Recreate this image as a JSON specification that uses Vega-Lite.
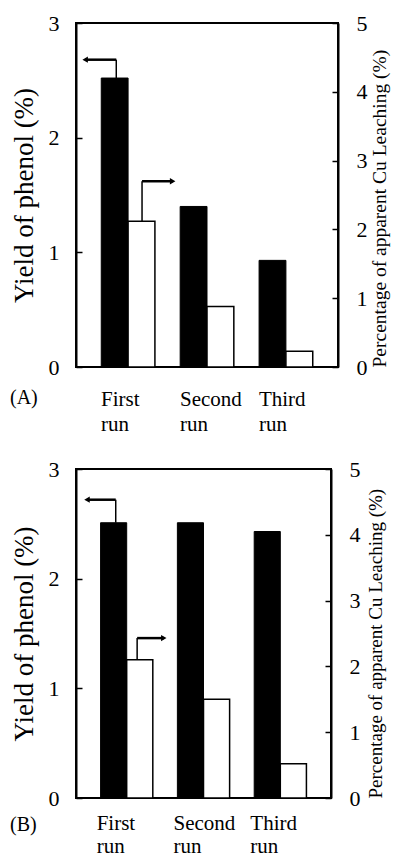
{
  "$schema": "https://vega.github.io/schema/vega-lite/v6.json",
  "background": "white",
  "padding": {"left": 9, "top": 11, "right": 2, "bottom": 0},
  "spacing": 22,
  "config": {
    "font": "Liberation Serif",
    "view": {"stroke": "black", "strokeWidth": 2},
    "axis": {
      "grid": false,
      "domainColor": "black",
      "domainWidth": 2,
      "tickColor": "black",
      "tickWidth": 1.5,
      "labelColor": "black",
      "titleColor": "black",
      "labelFont": "Liberation Serif",
      "titleFont": "Liberation Serif",
      "titleFontWeight": "normal"
    },
    "title": {"font": "Liberation Serif", "fontWeight": "normal", "color": "black"}
  },
  "datasets": {
    "runsA": [
      {"run": "First run", "yield": 2.52, "leach": 2.12},
      {"run": "Second run", "yield": 1.40, "leach": 0.88},
      {"run": "Third run", "yield": 0.93, "leach": 0.23}
    ],
    "yieldArrowA": [{"run": "First run", "start": 0.28, "end": -0.30, "base": 2.52, "level": 2.68}],
    "leachArrowA": [{"run": "First run", "start": 0.76, "end": 1.33, "base": 2.12, "level": 2.70}],
    "runsB": [
      {"run": "First run", "yield": 2.51, "leach": 2.10},
      {"run": "Second run", "yield": 2.51, "leach": 1.50},
      {"run": "Third run", "yield": 2.43, "leach": 0.52}
    ],
    "yieldArrowB": [{"run": "First run", "start": 0.29, "end": -0.26, "base": 2.51, "level": 2.72}],
    "leachArrowB": [{"run": "First run", "start": 0.70, "end": 1.21, "base": 2.10, "level": 2.43}]
  },
  "vconcat": [
    {
      "width": 262,
      "height": 344,
      "title": {"text": "(A)", "orient": "bottom", "anchor": "start", "frame": "bounds", "font": "Liberation Serif", "fontSize": 20, "dy": -50},
      "layer": [
        {
          "layer": [
            {
              "data": {"name": "runsA"},
              "mark": {"type": "bar", "color": "black", "stroke": "black", "strokeWidth": 1},
              "encoding": {
                "x": {
                  "field": "run", "type": "nominal", "sort": null,
                  "scale": {"domain": ["First run", "Second run", "Third run"], "paddingInner": 0.32, "paddingOuter": 0.32},
                  "axis": {"title": null, "labelAngle": 0, "ticks": false, "domain": false, "labelFont": "Liberation Serif", "labelFontSize": 21, "labelPadding": 21, "labelAlign": "left", "labelOffset": -27, "labelLineHeight": 25, "labelBaseline": "top", "labelExpr": "split(datum.label, ' ')"}
                },
                "xOffset": {"datum": "Yield", "scale": {"domain": ["Yield", "Leaching"]}},
                "y": {
                  "field": "yield", "type": "quantitative",
                  "scale": {"domain": [0, 3], "nice": false},
                  "axis": {"orient": "left", "title": "Yield of phenol (%)", "titleFont": "Liberation Serif", "titleFontSize": 27, "titlePadding": 10, "values": [0, 1, 2, 3], "format": "d", "tickSize": -6, "labelPadding": 23, "labelFont": "Liberation Serif", "labelFontSize": 22}
                }
              }
            },
            {
              "data": {"name": "yieldArrowA"},
              "layer": [
                {
                  "mark": {"type": "rule", "color": "black", "strokeWidth": 1.5},
                  "encoding": {
                    "x": {"field": "run", "type": "nominal"},
                    "xOffset": {"field": "start", "type": "quantitative", "scale": {"domain": [0, 1]}},
                    "y": {"field": "base", "type": "quantitative"},
                    "y2": {"field": "level"}
                  }
                },
                {
                  "transform": [{"fold": ["start", "end"], "as": ["point", "at"]}],
                  "mark": {"type": "line", "color": "black", "strokeWidth": 2.5},
                  "encoding": {
                    "x": {"field": "run", "type": "nominal"},
                    "xOffset": {"field": "at", "type": "quantitative", "scale": {"domain": [0, 1]}},
                    "y": {"field": "level", "type": "quantitative"}
                  }
                },
                {
                  "mark": {"type": "point", "shape": "triangle-left", "filled": true, "color": "black", "opacity": 1, "size": 40},
                  "encoding": {
                    "x": {"field": "run", "type": "nominal"},
                    "xOffset": {"field": "end", "type": "quantitative", "scale": {"domain": [0, 1]}},
                    "y": {"field": "level", "type": "quantitative"}
                  }
                }
              ]
            }
          ],
          "resolve": {"scale": {"xOffset": "independent"}}
        },
        {
          "layer": [
            {
              "data": {"name": "runsA"},
              "mark": {"type": "bar", "color": "white", "stroke": "black", "strokeWidth": 1.5},
              "encoding": {
                "x": {"field": "run", "type": "nominal", "sort": null},
                "xOffset": {"datum": "Leaching", "scale": {"domain": ["Yield", "Leaching"]}},
                "y": {
                  "field": "leach", "type": "quantitative",
                  "scale": {"domain": [0, 5], "nice": false},
                  "axis": {"orient": "right", "title": "Percentage of apparent Cu Leaching (%)", "titleFont": "Liberation Serif", "titleFontSize": 19.5, "titleAngle": 270, "titleBaseline": "top", "titleAnchor": "start", "titlePadding": 3, "values": [0, 1, 2, 3, 4, 5], "format": "d", "tickSize": -6, "labelPadding": 24, "labelFont": "Liberation Serif", "labelFontSize": 22}
                }
              }
            },
            {
              "data": {"name": "leachArrowA"},
              "layer": [
                {
                  "mark": {"type": "rule", "color": "black", "strokeWidth": 1.5},
                  "encoding": {
                    "x": {"field": "run", "type": "nominal"},
                    "xOffset": {"field": "start", "type": "quantitative", "scale": {"domain": [0, 1]}},
                    "y": {"field": "base", "type": "quantitative"},
                    "y2": {"field": "level"}
                  }
                },
                {
                  "transform": [{"fold": ["start", "end"], "as": ["point", "at"]}],
                  "mark": {"type": "line", "color": "black", "strokeWidth": 2.5},
                  "encoding": {
                    "x": {"field": "run", "type": "nominal"},
                    "xOffset": {"field": "at", "type": "quantitative", "scale": {"domain": [0, 1]}},
                    "y": {"field": "level", "type": "quantitative"}
                  }
                },
                {
                  "mark": {"type": "point", "shape": "triangle-right", "filled": true, "color": "black", "opacity": 1, "size": 40},
                  "encoding": {
                    "x": {"field": "run", "type": "nominal"},
                    "xOffset": {"field": "end", "type": "quantitative", "scale": {"domain": [0, 1]}},
                    "y": {"field": "level", "type": "quantitative"}
                  }
                }
              ]
            }
          ],
          "resolve": {"scale": {"xOffset": "independent"}}
        }
      ],
      "resolve": {"scale": {"y": "independent", "xOffset": "independent"}}
    },
    {
      "width": 255,
      "height": 329,
      "title": {"text": "(B)", "orient": "bottom", "anchor": "start", "frame": "bounds", "font": "Liberation Serif", "fontSize": 20, "dy": -45},
      "layer": [
        {
          "layer": [
            {
              "data": {"name": "runsB"},
              "mark": {"type": "bar", "color": "black", "stroke": "black", "strokeWidth": 1},
              "encoding": {
                "x": {
                  "field": "run", "type": "nominal", "sort": null,
                  "scale": {"domain": ["First run", "Second run", "Third run"], "paddingInner": 0.32, "paddingOuter": 0.32},
                  "axis": {"title": null, "labelAngle": 0, "ticks": false, "domain": false, "labelFont": "Liberation Serif", "labelFontSize": 21, "labelPadding": 14, "labelAlign": "left", "labelOffset": -30, "labelLineHeight": 23, "labelBaseline": "top", "labelExpr": "split(datum.label, ' ')"}
                },
                "xOffset": {"datum": "Yield", "scale": {"domain": ["Yield", "Leaching"]}},
                "y": {
                  "field": "yield", "type": "quantitative",
                  "scale": {"domain": [0, 3], "nice": false},
                  "axis": {"orient": "left", "title": "Yield of phenol (%)", "titleFont": "Liberation Serif", "titleFontSize": 27, "titlePadding": 10, "values": [0, 1, 2, 3], "format": "d", "tickSize": -6, "labelPadding": 23, "labelFont": "Liberation Serif", "labelFontSize": 22}
                }
              }
            },
            {
              "data": {"name": "yieldArrowB"},
              "layer": [
                {
                  "mark": {"type": "rule", "color": "black", "strokeWidth": 1.5},
                  "encoding": {
                    "x": {"field": "run", "type": "nominal"},
                    "xOffset": {"field": "start", "type": "quantitative", "scale": {"domain": [0, 1]}},
                    "y": {"field": "base", "type": "quantitative"},
                    "y2": {"field": "level"}
                  }
                },
                {
                  "transform": [{"fold": ["start", "end"], "as": ["point", "at"]}],
                  "mark": {"type": "line", "color": "black", "strokeWidth": 2.5},
                  "encoding": {
                    "x": {"field": "run", "type": "nominal"},
                    "xOffset": {"field": "at", "type": "quantitative", "scale": {"domain": [0, 1]}},
                    "y": {"field": "level", "type": "quantitative"}
                  }
                },
                {
                  "mark": {"type": "point", "shape": "triangle-left", "filled": true, "color": "black", "opacity": 1, "size": 40},
                  "encoding": {
                    "x": {"field": "run", "type": "nominal"},
                    "xOffset": {"field": "end", "type": "quantitative", "scale": {"domain": [0, 1]}},
                    "y": {"field": "level", "type": "quantitative"}
                  }
                }
              ]
            }
          ],
          "resolve": {"scale": {"xOffset": "independent"}}
        },
        {
          "layer": [
            {
              "data": {"name": "runsB"},
              "mark": {"type": "bar", "color": "white", "stroke": "black", "strokeWidth": 1.5},
              "encoding": {
                "x": {"field": "run", "type": "nominal", "sort": null},
                "xOffset": {"datum": "Leaching", "scale": {"domain": ["Yield", "Leaching"]}},
                "y": {
                  "field": "leach", "type": "quantitative",
                  "scale": {"domain": [0, 5], "nice": false},
                  "axis": {"orient": "right", "title": "Percentage of apparent Cu Leaching (%)", "titleFont": "Liberation Serif", "titleFontSize": 19, "titleAngle": 270, "titleBaseline": "top", "titleAnchor": "start", "titlePadding": 6, "values": [0, 1, 2, 3, 4, 5], "format": "d", "tickSize": -6, "labelPadding": 24, "labelFont": "Liberation Serif", "labelFontSize": 22}
                }
              }
            },
            {
              "data": {"name": "leachArrowB"},
              "layer": [
                {
                  "mark": {"type": "rule", "color": "black", "strokeWidth": 1.5},
                  "encoding": {
                    "x": {"field": "run", "type": "nominal"},
                    "xOffset": {"field": "start", "type": "quantitative", "scale": {"domain": [0, 1]}},
                    "y": {"field": "base", "type": "quantitative"},
                    "y2": {"field": "level"}
                  }
                },
                {
                  "transform": [{"fold": ["start", "end"], "as": ["point", "at"]}],
                  "mark": {"type": "line", "color": "black", "strokeWidth": 2.5},
                  "encoding": {
                    "x": {"field": "run", "type": "nominal"},
                    "xOffset": {"field": "at", "type": "quantitative", "scale": {"domain": [0, 1]}},
                    "y": {"field": "level", "type": "quantitative"}
                  }
                },
                {
                  "mark": {"type": "point", "shape": "triangle-right", "filled": true, "color": "black", "opacity": 1, "size": 40},
                  "encoding": {
                    "x": {"field": "run", "type": "nominal"},
                    "xOffset": {"field": "end", "type": "quantitative", "scale": {"domain": [0, 1]}},
                    "y": {"field": "level", "type": "quantitative"}
                  }
                }
              ]
            }
          ],
          "resolve": {"scale": {"xOffset": "independent"}}
        }
      ],
      "resolve": {"scale": {"y": "independent", "xOffset": "independent"}}
    }
  ]
}
